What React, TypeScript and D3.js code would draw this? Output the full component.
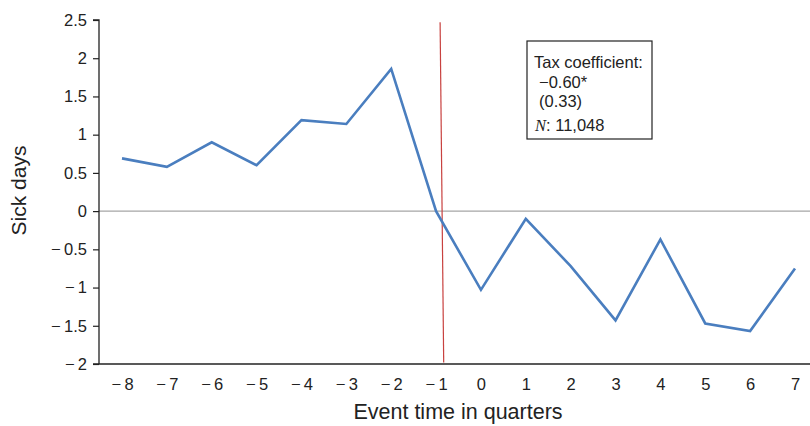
import React, { useEffect, useRef } from "react";
import * as d3 from "d3";

const quarters = [-8, -7, -6, -5, -4, -3, -2, -1, 0, 1, 2, 3, 4, 5, 6, 7];
const sickDays = [0.69, 0.58, 0.9, 0.6, 1.19, 1.14, 1.86, 0.0, -1.03, -0.1, -0.72, -1.43, -0.37, -1.47, -1.57, -0.75];
const yTicks = [2.5, 2, 1.5, 1, 0.5, 0, -0.5, -1, -1.5, -2];
// event marker (slightly slanted in the original)
const eventTop = { q: -0.91, v: 2.47 };
const eventBottom = { q: -0.83, v: -1.98 };
const noteLines = ["Tax coefficient:", "\u22120.60*", "(0.33)"];

const fmt = (v: number) => (v < 0 ? "\u2212\u2009" + String(-v) : String(v));

const App = () => {
  const svgRef = useRef<SVGSVGElement>(null);

  useEffect(() => {
    const width = 810;
    const height = 426;
    const svg = d3.select(svgRef.current);
    svg.selectAll("*").remove();

    const x = d3.scaleLinear().domain([-8, 7]).range([122, 795]);
    const y = d3.scaleLinear().domain([-2, 2.5]).range([364, 20]);
    const font = "'Liberation Sans', Arial, sans-serif";

    svg.attr("width", width).attr("height", height).style("font-family", font);

    // zero line
    svg.append("line")
      .attr("x1", 99).attr("x2", width)
      .attr("y1", y(0)).attr("y2", y(0))
      .attr("stroke", "#a6a6a6").attr("stroke-width", 1.3);

    // y axis
    const yAxis = svg.append("g")
      .attr("transform", "translate(99,0)")
      .call(d3.axisLeft(y).tickValues(yTicks).tickSize(6).tickPadding(6).tickFormat((d) => fmt(+d)));
    yAxis.select(".domain").attr("d", `M-6,${y(2.5)}H0V${y(-2)}`).attr("stroke", "#222").attr("stroke-width", 1.3);
    yAxis.selectAll(".tick line").attr("stroke", "#222").attr("stroke-width", 1.2);
    yAxis.selectAll(".tick text").attr("font-size", 16.5).attr("fill", "#222").attr("font-family", font);

    // x axis
    const xAxis = svg.append("g")
      .attr("transform", `translate(0,${y(-2)})`)
      .call(d3.axisBottom(x).tickValues(quarters).tickSize(0).tickPadding(14).tickFormat((d) => fmt(+d)));
    xAxis.select(".domain").attr("d", `M93,0H${width}`).attr("stroke", "#222").attr("stroke-width", 1.3);
    xAxis.selectAll(".tick text").attr("font-size", 16.5).attr("fill", "#222").attr("font-family", font);

    // axis titles
    svg.append("text")
      .attr("x", 458).attr("y", 419)
      .attr("text-anchor", "middle").attr("font-size", 21.5).attr("fill", "#222")
      .text("Event time in quarters");
    svg.append("text")
      .attr("transform", `translate(26,${y(0.27)}) rotate(-90)`)
      .attr("text-anchor", "middle").attr("font-size", 21).attr("fill", "#222")
      .text("Sick days");

    // event line
    svg.append("line")
      .attr("x1", x(eventTop.q)).attr("y1", y(eventTop.v))
      .attr("x2", x(eventBottom.q)).attr("y2", y(eventBottom.v))
      .attr("stroke", "#c8413f").attr("stroke-width", 1.2);

    // series
    const line = d3.line<number>()
      .x((_, i) => x(quarters[i]))
      .y((d) => y(d));
    svg.append("path")
      .datum(sickDays)
      .attr("d", line)
      .attr("fill", "none")
      .attr("stroke", "#4a7ebf")
      .attr("stroke-width", 2.6)
      .attr("stroke-linejoin", "miter");

    // annotation box
    const note = svg.append("g").attr("transform", "translate(527,41)");
    note.append("rect")
      .attr("width", 125).attr("height", 98)
      .attr("fill", "#fff").attr("stroke", "#222").attr("stroke-width", 1.2);
    noteLines.forEach((t, i) => {
      note.append("text")
        .attr("x", i === 0 ? 7 : 12)
        .attr("y", 27 + i * 19.5)
        .attr("font-size", 16.5).attr("fill", "#222")
        .text(t);
    });
    const nText = note.append("text").attr("x", 8).attr("y", 90).attr("font-size", 16.5).attr("fill", "#222");
    nText.append("tspan").attr("font-family", "'Liberation Serif', serif").attr("font-style", "italic").text("N");
    nText.append("tspan").text(": 11,048");
  }, []);

  return (
    <div style={{ position: "fixed", left: 0, top: 0, background: "#fff" }}>
      <svg ref={svgRef}></svg>
    </div>
  );
};

export default App;
